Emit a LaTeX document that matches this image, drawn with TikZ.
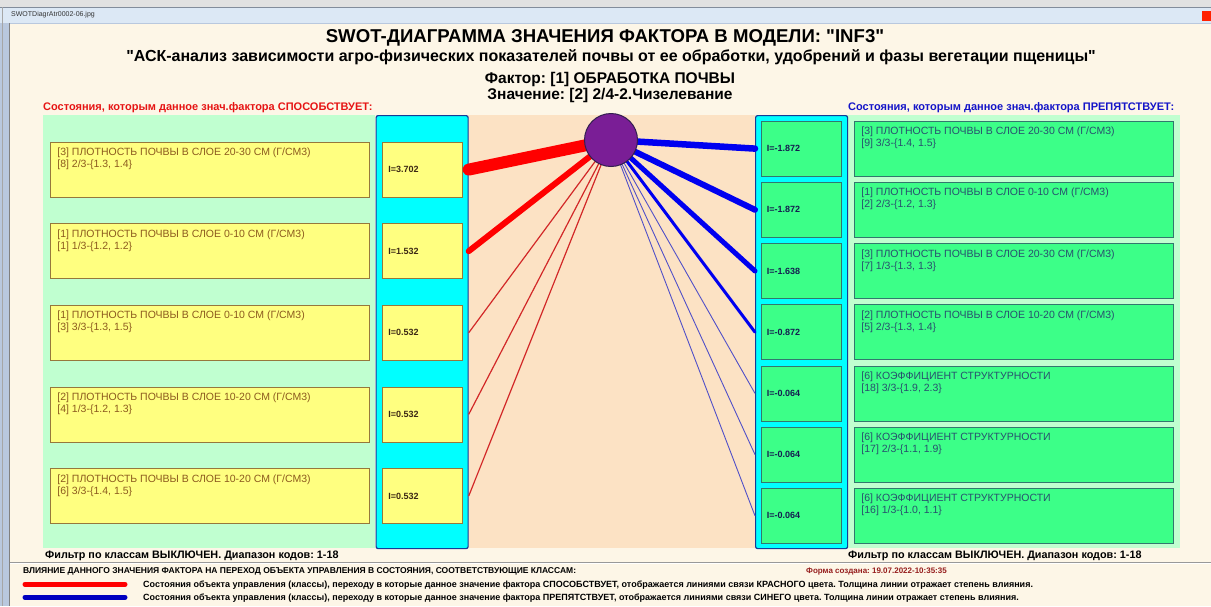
\documentclass[tikz,border=0pt]{standalone}
\usepackage{fontspec}
\setmainfont{Liberation Sans}[Ligatures=TeXOff]
\definecolor{cream}{RGB}{253,246,231}
\definecolor{mint}{RGB}{192,255,208}
\definecolor{ybox}{RGB}{255,255,128}
\definecolor{ybord}{RGB}{150,120,60}
\definecolor{cyanc}{RGB}{0,255,255}
\definecolor{cyanbord}{RGB}{20,60,150}
\definecolor{peach}{RGB}{252,226,196}
\definecolor{gbox}{RGB}{60,255,136}
\definecolor{gbord}{RGB}{50,120,110}
\definecolor{ltext}{RGB}{140,90,30}
\definecolor{rtext}{RGB}{40,80,110}
\definecolor{lval}{RGB}{60,40,20}
\definecolor{rval}{RGB}{20,30,80}
\definecolor{circf}{RGB}{122,30,150}
\definecolor{circb}{RGB}{50,30,80}
\definecolor{tbar}{RGB}{220,232,245}
\definecolor{framec}{RGB}{185,200,222}
\definecolor{topg}{RGB}{225,225,225}
\definecolor{redc}{RGB}{255,0,0}
\definecolor{thinred}{RGB}{210,40,40}
\definecolor{bluec}{RGB}{0,0,240}
\definecolor{thinblue}{RGB}{80,80,200}
\definecolor{darkred}{RGB}{150,30,30}
\definecolor{hred}{RGB}{230,20,20}
\definecolor{hblue}{RGB}{20,20,200}
\begin{document}
\frenchspacing
\begin{tikzpicture}[x=1pt,y=-1pt,
  lbox/.style={draw=ybord, fill=ybox, line width=0.8pt, inner xsep=7pt, inner ysep=6pt, anchor=north west, text=ltext, font=\fontsize{10.5}{12}\selectfont},
  rbox/.style={draw=gbord, fill=gbox, line width=0.8pt, inner xsep=7pt, inner ysep=6pt, anchor=north west, text=rtext, font=\fontsize{10.5}{12}\selectfont},
  lval/.style={draw=ybord, fill=ybox, line width=0.8pt, minimum height=55pt, text width=68pt, inner xsep=6pt, inner ysep=0pt, align=left, anchor=north west, text=lval, font=\bfseries\fontsize{9}{10}\selectfont},
  rval/.style={draw=gbord, fill=gbox, line width=0.8pt, minimum height=55pt, text width=68pt, inner xsep=6pt, inner ysep=0pt, align=left, anchor=north west, text=rval, font=\bfseries\fontsize{9}{10}\selectfont},
  colbox/.style={draw=cyanbord, fill=cyanc, line width=1.2pt, rounded corners=2pt, anchor=north west, minimum width=92pt, minimum height=433pt, inner sep=0pt},
  redl/.style={draw=redc, line cap=round},
  bluel/.style={draw=bluec, line cap=round},
  hdr/.style={font=\bfseries\fontsize{11}{12}\selectfont, anchor=base west, inner sep=0pt},
  filt/.style={font=\bfseries\fontsize{10.8}{12}\selectfont, anchor=base west, inner sep=0pt},
  leg/.style={font=\bfseries\fontsize{9}{10}\selectfont, anchor=base west, inner sep=0pt},
]
\newcommand{\bt}[2]{\parbox[t][43pt][t]{305pt}{\raggedright #1\par #2}}
\useasboundingbox (0,0) rectangle (1211,606);
% window
\fill[cream] (0,0) rectangle (1211,606);
\fill[topg] (0,0) rectangle (1211,7);
\fill[tbar] (0,7) rectangle (1211,23);
\draw[framec!70!black, line width=0.6pt] (0,7) -- (1211,7);
\draw[framec, line width=0.6pt] (0,23) -- (1211,23);
\fill[framec] (0,23) rectangle (9,606);
\draw[gray, line width=0.6pt] (9,23) -- (9,606);
\draw[gray!70, line width=0.8pt] (2,7) -- (2,606);
\node[font=\fontsize{7}{8}\selectfont, text=black!80, anchor=west, inner sep=0] (wtitle) at (11,15) {SWOTDiagrAtr0002-06.jpg};
\fill[red!75!orange] (1202,11) rectangle (1211,21);
% titles
\node[font=\bfseries\fontsize{18.6}{20}\selectfont, anchor=base] (t1) at (605,42) {SWOT-ДИАГРАММА ЗНАЧЕНИЯ ФАКТОРА В МОДЕЛИ: "INF3"};
\node[font=\bfseries\fontsize{16}{18}\selectfont, anchor=base] (t2) at (611,61) {"АСК-анализ зависимости агро-физических показателей почвы от ее обработки, удобрений и фазы вегетации пщеницы"};
\node[font=\bfseries\fontsize{15.5}{16}\selectfont, anchor=base] (t3) at (610,83.5) {Фактор: [1] ОБРАБОТКА ПОЧВЫ};
\node[font=\bfseries\fontsize{15.5}{16}\selectfont, anchor=base] (t4) at (610,99.5) {Значение: [2] 2/4-2.Чизелевание};
\node[hdr, text=hred] (hl) at (43,110) {Состояния, которым данное знач.фактора СПОСОБСТВУЕТ:};
\node[hdr, text=hblue] (hr) at (848,110) {Состояния, которым данное знач.фактора ПРЕПЯТСТВУЕТ:};
% panels
\fill[mint] (43,115) rectangle (375,548);
\fill[peach] (468,115) rectangle (755,548);
\fill[mint] (847,115) rectangle (1180,548);
\node[colbox] (lcol) at (375.5,115) {};
\node[colbox] (rcol) at (755,115) {};
% left boxes
\node[lbox] (L1) at (50,141.7) {\bt{[3] ПЛОТНОСТЬ ПОЧВЫ В СЛОЕ 20-30 СМ (Г/СМ3)}{[8] 2/3-\{1.3, 1.4\}}};
\node[lbox] (L2) at (50,223.3) {\bt{[1] ПЛОТНОСТЬ ПОЧВЫ В СЛОЕ 0-10 СМ (Г/СМ3)}{[1] 1/3-\{1.2, 1.2\}}};
\node[lbox] (L3) at (50,304.9) {\bt{[1] ПЛОТНОСТЬ ПОЧВЫ В СЛОЕ 0-10 СМ (Г/СМ3)}{[3] 3/3-\{1.3, 1.5\}}};
\node[lbox] (L4) at (50,386.5) {\bt{[2] ПЛОТНОСТЬ ПОЧВЫ В СЛОЕ 10-20 СМ (Г/СМ3)}{[4] 1/3-\{1.2, 1.3\}}};
\node[lbox] (L5) at (50,468.1) {\bt{[2] ПЛОТНОСТЬ ПОЧВЫ В СЛОЕ 10-20 СМ (Г/СМ3)}{[6] 3/3-\{1.4, 1.5\}}};
\node[lval] (LI1) at (382,141.7) {I=3.702};
\node[lval] (LI2) at (382,223.3) {I=1.532};
\node[lval] (LI3) at (382,304.9) {I=0.532};
\node[lval] (LI4) at (382,386.5) {I=0.532};
\node[lval] (LI5) at (382,468.1) {I=0.532};
% right boxes
\node[rbox] (R1) at (854,120.7) {\bt{[3] ПЛОТНОСТЬ ПОЧВЫ В СЛОЕ 20-30 СМ (Г/СМ3)}{[9] 3/3-\{1.4, 1.5\}}};
\node[rbox] (R2) at (854,181.9) {\bt{[1] ПЛОТНОСТЬ ПОЧВЫ В СЛОЕ 0-10 СМ (Г/СМ3)}{[2] 2/3-\{1.2, 1.3\}}};
\node[rbox] (R3) at (854,243.1) {\bt{[3] ПЛОТНОСТЬ ПОЧВЫ В СЛОЕ 20-30 СМ (Г/СМ3)}{[7] 1/3-\{1.3, 1.3\}}};
\node[rbox] (R4) at (854,304.3) {\bt{[2] ПЛОТНОСТЬ ПОЧВЫ В СЛОЕ 10-20 СМ (Г/СМ3)}{[5] 2/3-\{1.3, 1.4\}}};
\node[rbox] (R5) at (854,365.5) {\bt{[6] КОЭФФИЦИЕНТ СТРУКТУРНОСТИ}{[18] 3/3-\{1.9, 2.3\}}};
\node[rbox] (R6) at (854,426.7) {\bt{[6] КОЭФФИЦИЕНТ СТРУКТУРНОСТИ}{[17] 2/3-\{1.1, 1.9\}}};
\node[rbox] (R7) at (854,487.9) {\bt{[6] КОЭФФИЦИЕНТ СТРУКТУРНОСТИ}{[16] 1/3-\{1.0, 1.1\}}};
\node[rval] (RI1) at (760.5,120.7) {I=-1.872};
\node[rval] (RI2) at (760.5,181.9) {I=-1.872};
\node[rval] (RI3) at (760.5,243.1) {I=-1.638};
\node[rval] (RI4) at (760.5,304.3) {I=-0.872};
\node[rval] (RI5) at (760.5,365.5) {I=-0.064};
\node[rval] (RI6) at (760.5,426.7) {I=-0.064};
\node[rval] (RI7) at (760.5,487.9) {I=-0.064};
% factor circle
\coordinate (C) at (611,140);
\draw[redl, line width=12pt] (C) -- (LI1 -| lcol.east);
\draw[redl, line width=6pt] (C) -- (LI2 -| lcol.east);
\draw[draw=thinred, line width=1.2pt] (C) -- (LI3 -| lcol.east);
\draw[draw=thinred, line width=1.2pt] (C) -- (LI4 -| lcol.east);
\draw[draw=thinred, line width=1.2pt] (C) -- (LI5 -| lcol.east);
\draw[bluel, line width=6.5pt] (C) -- (RI1 -| rcol.west);
\draw[bluel, line width=6pt] (C) -- (RI2 -| rcol.west);
\draw[bluel, line width=5pt] (C) -- (RI3 -| rcol.west);
\draw[bluel, line width=3pt] (C) -- (RI4 -| rcol.west);
\draw[draw=thinblue, line width=0.9pt] (C) -- (RI5 -| rcol.west);
\draw[draw=thinblue, line width=0.9pt] (C) -- (RI6 -| rcol.west);
\draw[draw=thinblue, line width=0.9pt] (C) -- (RI7 -| rcol.west);
\node[circle, draw=circb, fill=circf, line width=1pt, minimum size=53pt, inner sep=0] (F) at (C) {};
% bottom
\node[filt, text=black] (fl) at (45,558) {Фильтр по классам ВЫКЛЮЧЕН. Диапазон кодов: 1-18};
\node[filt, text=black] (fr) at (848,558) {Фильтр по классам ВЫКЛЮЧЕН. Диапазон кодов: 1-18};
\draw[gray!80, line width=0.8pt] (10,562) -- (1211,562);
\draw[white, line width=0.6pt] (10,563.2) -- (1211,563.2);
\node[leg, text=black, font=\bfseries\fontsize{8.5}{10}\selectfont] (lh) at (23,573.5) {ВЛИЯНИЕ ДАННОГО ЗНАЧЕНИЯ ФАКТОРА НА ПЕРЕХОД ОБЪЕКТА УПРАВЛЕНИЯ В СОСТОЯНИЯ, СООТВЕТСТВУЮЩИЕ КЛАССАМ:};
\node[leg, text=darkred, font=\bfseries\fontsize{8}{10}\selectfont] (fd) at (806,573.5) {Форма создана: 19.07.2022-10:35:35};
\coordinate (lr1) at (25,584.3);
\coordinate (lr2) at (125,584.3);
\coordinate (lb1) at (25,597.3);
\coordinate (lb2) at (125,597.3);
\draw[redl, line width=5pt] (lr1) -- (lr2);
\draw[draw=bluec!80!black, line cap=round, line width=5pt] (lb1) -- (lb2);
\node[leg, text=black] (lt1) at (143,587.3) {Состояния объекта управления (классы), переходу в которые данное значение фактора СПОСОБСТВУЕТ, отображается линиями связи КРАСНОГО цвета. Толщина линии отражает степень влияния.};
\node[leg, text=black] (lt2) at (143,600.3) {Состояния объекта управления (классы), переходу в которые данное значение фактора ПРЕПЯТСТВУЕТ, отображается линиями связи СИНЕГО цвета. Толщина линии отражает степень влияния.};
\end{tikzpicture}
\end{document}
